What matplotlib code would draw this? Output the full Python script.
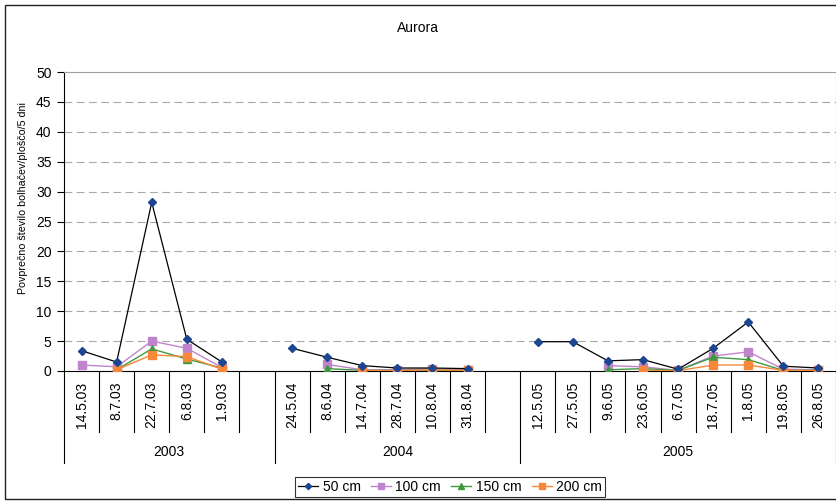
import matplotlib.pyplot as plt
import matplotlib.transforms as mtransforms
from matplotlib.patches import Rectangle
import numpy as np

plt.rcParams['font.family'] = ['Liberation Sans', 'DejaVu Sans']

# categories along x ('' = empty slot between seasons)
dates = ['14.5.03', '8.7.03', '22.7.03', '6.8.03', '1.9.03', '',
         '24.5.04', '8.6.04', '14.7.04', '28.7.04', '10.8.04', '31.8.04', '',
         '12.5.05', '27.5.05', '9.6.05', '23.6.05', '6.7.05', '18.7.05',
         '1.8.05', '19.8.05', '26.8.05']
years = ['2003', '2004', '2005']
year_bounds = [0, 6, 13, 22]

n = None
cm50 = [3.4, 1.5, 28.2, 5.3, 1.5, n,
        3.8, 2.3, 0.9, 0.5, 0.5, 0.4, n,
        4.9, 4.9, 1.7, 1.9, 0.3, 3.8, 8.2, 0.8, 0.5]
cm100 = [1.0, 0.7, 5.0, 3.8, 0.6, n,
         n, 1.1, 0.2, 0.2, 0.4, 0.2, n,
         n, n, 0.9, 0.7, 0.1, 2.5, 3.2, 0.3, 0.2]
cm150 = [n, 0.2, 3.7, 2.0, 0.5, n,
         n, 0.4, 0.1, 0.1, 0.1, 0.1, n,
         n, n, 0.2, 0.4, 0.1, 2.3, 1.9, 0.1, 0.1]
cm200 = [n, 0.2, 2.7, 2.4, 0.3, n,
         n, n, 0.1, 0.05, 0.2, 0.1, n,
         n, n, n, 0.1, 0.05, 1.0, 1.0, 0.1, 0.1]


def arr(v):
    return np.array([np.nan if a is None else a for a in v], dtype=float)


W, H = 837, 501
fig = plt.figure(figsize=(W / 100, H / 100), dpi=100)

# plot area in pixel coords
left, right, top, bottom = 64, 836, 72, 371
ax = fig.add_axes([left / W, 1 - bottom / H, (right - left) / W, (bottom - top) / H])

x = np.arange(len(dates)) + 0.5
ax.plot(x, arr(cm50), color='black', lw=0.9, marker='D', ms=4,
        mfc='#1c4690', mec='#1c4690', label='50 cm', zorder=5)
ax.plot(x, arr(cm100), color='#c084cc', lw=1.0, marker='s', ms=6,
        mfc='#c084cc', mec='#c084cc', label='100 cm', zorder=4)
ax.plot(x, arr(cm150), color='#3f9a3f', lw=1.0, marker='^', ms=6,
        mfc='#3f9a3f', mec='#3f9a3f', label='150 cm', zorder=4)
ax.plot(x, arr(cm200), color='#f7883a', lw=1.0, marker='s', ms=6,
        mfc='#f7883a', mec='#f7883a', label='200 cm', zorder=4)

ax.set_xlim(0, len(dates))
ax.set_ylim(0, 50)
ax.set_yticks(range(0, 51, 5))
ax.tick_params(axis='y', length=5, width=0.8, pad=4, labelsize=10)
ax.set_xticks([])
for y in range(5, 50, 5):
    ax.axhline(y, color='#a8a8a8', lw=0.8, ls=(0, (7, 4)), zorder=1)

ax.spines['top'].set_color('#a0a0a0')
ax.spines['right'].set_color('#a0a0a0')
ax.spines['left'].set_color('black')
ax.spines['bottom'].set_color('black')
for s in ax.spines.values():
    s.set_linewidth(0.8)

h = bottom - top
ax.set_ylabel('Povprečno število bolhačev/ploščo/5 dni', fontsize=7.7)
ax.yaxis.set_label_coords((28 - left) / (right - left), (bottom - 198) / h)

# category axis: short dividers, rotated dates, long year dividers
trans = mtransforms.blended_transform_factory(ax.transData, ax.transAxes)
short_end = -(432 - bottom) / h
long_end = -(463 - bottom) / h
for i in range(len(dates) + 1):
    end = long_end if i in year_bounds else short_end
    ax.plot([i, i], [0, end], color='black', lw=0.8, transform=trans, clip_on=False)
for i, d in enumerate(dates):
    ax.text(i + 0.5, -(382 - bottom) / h, d, rotation=90, ha='center', va='top',
            fontsize=10, transform=trans)
for k, yr in enumerate(years):
    ax.text((year_bounds[k] + year_bounds[k + 1]) / 2, -(452 - bottom) / h, yr,
            ha='center', va='center', fontsize=10, transform=trans)

fig.text(418 / W, 1 - 28 / H, 'Aurora', ha='center', va='center', fontsize=10)

leg = fig.legend(loc='center', bbox_to_anchor=(450 / W, 1 - 487 / H), ncol=4,
                 fontsize=10, frameon=True, fancybox=False, handlelength=1.45,
                 handletextpad=0.3, columnspacing=0.75, borderpad=0.25,
                 markerscale=0.8)
leg.get_frame().set_edgecolor('black')
leg.get_frame().set_linewidth(0.8)

# outer chart frame
fig.patches.append(Rectangle((5 / W, 1 - 499 / H), 1.0, (499 - 5) / H,
                             transform=fig.transFigure, fill=False,
                             edgecolor='#222222', lw=1.0))

fig.savefig('out.png', dpi=100)
